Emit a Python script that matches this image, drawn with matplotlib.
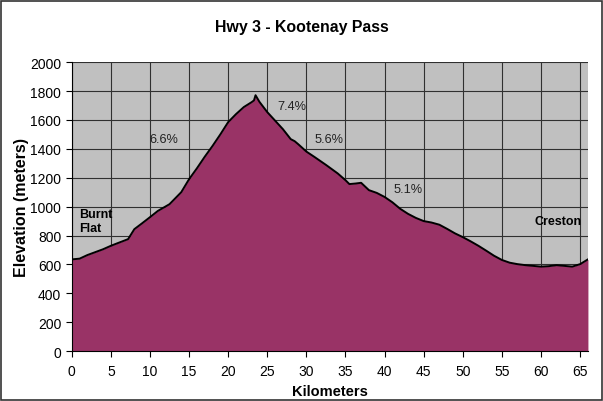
import matplotlib
matplotlib.use("Agg")
import matplotlib.pyplot as plt
from matplotlib.patches import Rectangle

km = [0, 1, 2, 3, 4, 5, 6, 7.2, 8, 9, 10, 11, 12.5, 14, 15, 16, 17, 18, 19, 20, 21, 22, 23,
      23.3, 23.5, 24, 25, 26, 27, 28, 28.5, 29, 30, 31, 32.5, 34, 35, 35.5, 36.3, 37, 38, 39, 40,
      41, 42, 43, 44, 45, 46, 47, 48, 49, 50, 51, 52, 53, 54, 55, 56, 57, 58, 59, 60,
      61, 62, 63, 64, 65, 66]
elev = [635, 640, 665, 685, 705, 729, 750, 775, 844, 885, 927, 970, 1017, 1100, 1190, 1265,
        1345, 1420, 1500, 1585, 1640, 1689, 1723, 1735, 1771, 1725, 1654, 1595, 1536, 1467,
        1453, 1430, 1381, 1345, 1289, 1230, 1183, 1156, 1160, 1165, 1114, 1095, 1067, 1030,
        985, 950, 922, 900, 890, 875, 846, 815, 789, 760, 729, 695, 660, 631, 612, 602, 595,
        590, 585, 588, 595, 590, 585, 602, 635]

grade_labels = ["6.6%", "7.4%", "5.6%", "5.1%"]
grade_pos = [(11.8, 1467), (28.2, 1695), (32.9, 1467), (43.0, 1121)]
place_labels = ["Burnt\nFlat", "Creston"]

x_ticks = list(range(0, 70, 5))
y_ticks = list(range(0, 2200, 200))

fig = plt.figure(figsize=(6.03, 4.02), dpi=100)
plt.rcParams['font.family'] = ['Liberation Sans', 'DejaVu Sans']
ax = fig.add_axes([0.119, 0.124, 0.856, 0.719])
ax.set_facecolor('#C0C0C0')
ax.fill_between(km, elev, 0, color='#993366', zorder=2, linewidth=0)
ax.plot(km, elev, color='black', linewidth=1.4, zorder=3)

ax.set_xlim(0, 66)
ax.set_ylim(0, 2000)
ax.set_xticks(x_ticks)
ax.set_yticks(y_ticks)
ax.tick_params(labelsize=10, length=4, color='black', width=0.8)
ax.tick_params(axis='x', pad=5)
ax.grid(True, color='#303030', linewidth=0.8, zorder=1)
ax.set_axisbelow(True)
for s in ['top', 'right']:
    ax.spines[s].set_visible(False)
for s in ['left', 'bottom']:
    ax.spines[s].set_linewidth(0.8)

for lbl, (x, y) in zip(grade_labels, grade_pos):
    ax.text(x, y, lbl, fontsize=9.2, ha='center', va='center', color='#222222', zorder=4)
ax.text(1.0, 900, place_labels[0], fontsize=9, fontweight='bold', ha='left', va='center',
        linespacing=1.2, zorder=4)
ax.text(62.2, 900, place_labels[1], fontsize=9, fontweight='bold', ha='center', va='center',
        zorder=4)

ax.set_xlabel('Kilometers', fontsize=10.5, fontweight='bold', labelpad=4.5)
ax.set_ylabel('Elevation (meters)', fontsize=11.5, fontweight='bold', labelpad=1)
fig.suptitle('Hwy 3 - Kootenay Pass', fontsize=11.4, fontweight='bold', y=0.95)

fig.patches.append(Rectangle((0.002, 0.002), 0.996, 0.994, transform=fig.transFigure,
                             fill=False, edgecolor='#333333', linewidth=1.2))
fig.savefig('out.png', dpi=100)
